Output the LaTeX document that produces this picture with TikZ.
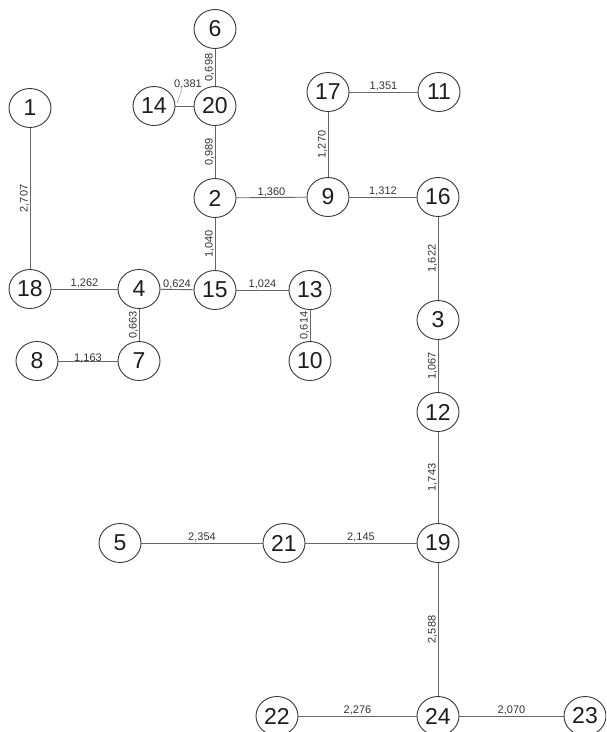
\documentclass[tikz,border=0pt]{standalone}
\usepackage{fontspec}
\setmainfont{Liberation Sans}
\usetikzlibrary{shapes.geometric}
\definecolor{edgecol}{HTML}{666666}
\definecolor{nodecol}{HTML}{3A3A3A}
\definecolor{txtcol}{HTML}{1E1E1E}
\definecolor{labcol}{HTML}{333333}
\tikzset{
  bus/.style={ellipse, draw=nodecol, line width=0.9pt, minimum width=42pt, minimum height=39pt, inner sep=0pt, font=\fontsize{23}{23}\selectfont, text=txtcol, fill=white},
  edge/.style={draw=edgecol, line width=0.9pt},
  hlab/.style={font=\fontsize{11}{11}\selectfont, text=labcol, anchor=south, inner sep=0.6pt, midway},
  vlab/.style={font=\fontsize{11}{11}\selectfont, text=labcol, anchor=south, rotate=90, inner sep=0.6pt, midway},
  leader/.style={draw=edgecol!70, line width=0.5pt}
}
\begin{document}
\begin{tikzpicture}[x=1pt,y=-1pt]
\clip (0,0) rectangle (606,732);
\useasboundingbox (0,0) rectangle (606,732);
% nodes
\node[bus] (n6)  at (215,29)  {6};
\node[bus] (n14) at (154,106) {14};
\node[bus] (n20) at (215,106) {20};
\node[bus] (n1)  at (30,108)  {1};
\node[bus] (n17) at (328,92)  {17};
\node[bus] (n11) at (439,92)  {11};
\node[bus] (n2)  at (215,198) {2};
\node[bus] (n9)  at (328,197) {9};
\node[bus] (n16) at (438,197) {16};
\node[bus] (n18) at (30,289)  {18};
\node[bus] (n4)  at (139,289) {4};
\node[bus] (n15) at (215,290) {15};
\node[bus] (n13) at (310,290) {13};
\node[bus] (n3)  at (438,320) {3};
\node[bus] (n8)  at (37,361)  {8};
\node[bus] (n7)  at (139,361) {7};
\node[bus] (n10) at (310,361) {10};
\node[bus] (n12) at (438,412) {12};
\node[bus] (n5)  at (120,543) {5};
\node[bus] (n21) at (284,543) {21};
\node[bus] (n19) at (438,543) {19};
\node[bus] (n22) at (277,716) {22};
\node[bus] (n24) at (438,716) {24};
\node[bus] (n23) at (585,716) {23};
% edges
\draw[edge] (n6) -- (n20) node[vlab] {0,698};
\draw[edge] (n14) -- (n20);
\draw[edge] (n20) -- (n2) node[vlab] {0,989};
\draw[edge] (n1) -- (n18) node[vlab] {2,707};
\draw[edge] (n2) -- (n9) node[hlab] {1,360};
\draw[edge] (n17) -- (n11) node[hlab] {1,351};
\draw[edge] (n17) -- (n9) node[vlab] {1,270};
\draw[edge] (n9) -- (n16) node[hlab] {1,312};
\draw[edge] (n2) -- (n15) node[vlab] {1,040};
\draw[edge] (n18) -- (n4) node[hlab] {1,262};
\draw[edge] (n4) -- (n15) node[hlab] {0,624};
\draw[edge] (n15) -- (n13) node[hlab] {1,024};
\draw[edge] (n4) -- (n7) node[vlab] {0,663};
\draw[edge] (n13) -- (n10) node[vlab] {0,614};
\draw[edge] (n8) -- (n7) node[hlab, yshift=-2.5pt] {1,163};
\draw[edge] (n16) -- (n3) node[vlab] {1,622};
\draw[edge] (n3) -- (n12) node[vlab] {1,067};
\draw[edge] (n12) -- (n19) node[vlab] {1,743};
\draw[edge] (n5) -- (n21) node[hlab] {2,354};
\draw[edge] (n21) -- (n19) node[hlab] {2,145};
\draw[edge] (n19) -- (n24) node[vlab] {2,588};
\draw[edge] (n22) -- (n24) node[hlab] {2,276};
\draw[edge] (n24) -- (n23) node[hlab] {2,070};
% label with leader for 14-20
\node[font=\fontsize{11}{11}\selectfont, text=labcol, inner sep=0.6pt] (l381) at (188,84) {0,381};
\coordinate (p381) at (177,103);
\draw[leader] (l381.south) ++(-6pt,0) -- (p381);
\end{tikzpicture}
\end{document}
